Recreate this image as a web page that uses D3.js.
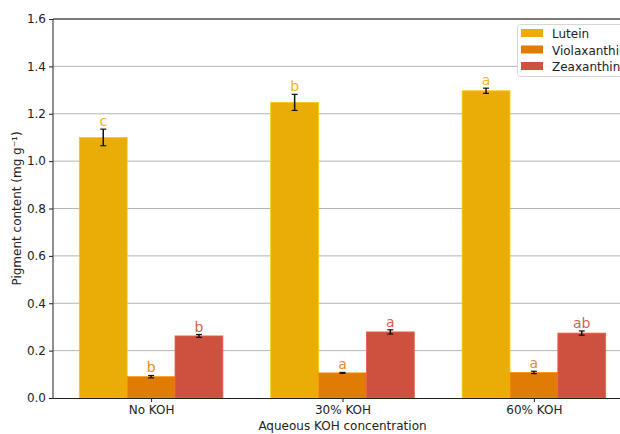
<!DOCTYPE html>
<html>
<head>
<meta charset="utf-8">
<script src="https://cdn.jsdelivr.net/npm/d3@7"></script>
<style>
  html, body { margin: 0; padding: 0; background: #fff; }
  svg { display: block; font-family: "DejaVu Sans", sans-serif; }
</style>
</head>
<body>
<svg id="chart" width="620" height="434"></svg>
<script>
// Treatments and pigments
const categories = ["No KOH", "30% KOH", "60% KOH"];
const seriesNames = ["Lutein", "Violaxanthin", "Zeaxanthin"];
const seriesColors = ["#EAAD08", "#E07C04", "#CE5140"];
const labelColors = ["#EFB525", "#E88A23", "#D6604F"];

// Mean pigment content (mg g-1) per treatment
const lutein = [1.100, 1.248, 1.297];
const violaxanthin = [0.090, 0.106, 0.108];
const zeaxanthin = [0.262, 0.279, 0.274];

// Standard errors
const luteinErr = [0.035, 0.034, 0.011];
const violaxanthinErr = [0.005, 0.002, 0.005];
const zeaxanthinErr = [0.006, 0.009, 0.009];

// Significance letters
const luteinLetters = ["c", "b", "a"];
const violaxanthinLetters = ["b", "a", "a"];
const zeaxanthinLetters = ["b", "a", "ab"];

const yTicks = [0, 0.2, 0.4, 0.6, 0.8, 1.0, 1.2, 1.4, 1.6];

const values = [lutein, violaxanthin, zeaxanthin];
const errors = [luteinErr, violaxanthinErr, zeaxanthinErr];
const letters = [luteinLetters, violaxanthinLetters, zeaxanthinLetters];

const svg = d3.select("#chart");
const m = { left: 53, top: 19, bottom: 398, right: 632 };

// Linear x scale over category index, with matplotlib-like padding
const barW = 0.25;
const x = d3.scaleLinear().domain([-0.5125, 2.5125]).range([m.left, m.right]);
const y = d3.scaleLinear().domain([0, 1.6]).range([m.bottom, m.top]);

// Horizontal grid
svg.append("g")
  .selectAll("line")
  .data(yTicks.slice(1, -1))
  .join("line")
  .attr("x1", m.left).attr("x2", m.right)
  .attr("y1", d => y(d)).attr("y2", d => y(d))
  .attr("stroke", "#b4b4b4").attr("stroke-width", 1);

// Bars
const offsets = [-barW, 0, barW];
seriesNames.forEach((name, s) => {
  const g = svg.append("g");
  g.selectAll("rect")
    .data(values[s])
    .join("rect")
    .attr("x", (d, i) => x(i + offsets[s] - barW / 2))
    .attr("width", (d, i) => x(i + offsets[s] + barW / 2) - x(i + offsets[s] - barW / 2))
    .attr("y", d => y(d))
    .attr("height", d => y(0) - y(d))
    .attr("fill", seriesColors[s])
    .attr("stroke", d3.color(seriesColors[s]).brighter(0.4))
    .attr("stroke-width", 0.8);

  // Error bars
  const eb = g.selectAll("g.err")
    .data(values[s])
    .join("g").attr("class", "err");
  eb.append("line")
    .attr("x1", (d, i) => x(i + offsets[s])).attr("x2", (d, i) => x(i + offsets[s]))
    .attr("y1", (d, i) => y(d - errors[s][i])).attr("y2", (d, i) => y(d + errors[s][i]))
    .attr("stroke", "#111").attr("stroke-width", 1.5);
  [-1, 1].forEach(sign => {
    eb.append("line")
      .attr("x1", (d, i) => x(i + offsets[s]) - 3).attr("x2", (d, i) => x(i + offsets[s]) + 3)
      .attr("y1", (d, i) => y(d + sign * errors[s][i]))
      .attr("y2", (d, i) => y(d + sign * errors[s][i]))
      .attr("stroke", "#111").attr("stroke-width", 1.2);
  });

  // Letters
  g.selectAll("text.letter")
    .data(values[s])
    .join("text").attr("class", "letter")
    .attr("x", (d, i) => x(i + offsets[s]))
    .attr("y", (d, i) => y(d + errors[s][i]) - 3)
    .attr("text-anchor", "middle")
    .attr("font-size", 14)
    .attr("fill", labelColors[s])
    .text((d, i) => letters[s][i]);
});

// Spines
svg.append("line").attr("x1", m.left).attr("x2", m.right).attr("y1", m.top).attr("y2", m.top)
  .attr("stroke", "#7a7a7a").attr("stroke-width", 2);
svg.append("line").attr("x1", m.left).attr("x2", m.left).attr("y1", m.top).attr("y2", m.bottom)
  .attr("stroke", "#222").attr("stroke-width", 1);

// Axes
const yAxis = d3.axisLeft(y).tickValues(yTicks).tickFormat(d3.format(".1f")).tickSize(4).tickPadding(3);
const yg = svg.append("g").attr("transform", `translate(${m.left},0)`).call(yAxis);
yg.select(".domain").remove();
yg.selectAll("text").attr("font-size", 12).attr("fill", "#222").attr("font-family", "DejaVu Sans");
yg.selectAll("line").attr("stroke", "#222");

const xAxis = d3.axisBottom(x).tickValues([0, 1, 2]).tickFormat(i => categories[i]).tickSize(4).tickPadding(3);
const xg = svg.append("g").attr("transform", `translate(0,${m.bottom})`).call(xAxis);
xg.select(".domain").attr("d", `M${m.left},0.5H${m.right}`).attr("stroke", "#222");
xg.selectAll("text").attr("font-size", 12).attr("fill", "#222").attr("font-family", "DejaVu Sans");
xg.selectAll("line").attr("stroke", "#222");

// Axis titles
svg.append("text")
  .attr("x", x(1)).attr("y", 430)
  .attr("text-anchor", "middle").attr("font-size", 12).attr("fill", "#222")
  .text("Aqueous KOH concentration");
svg.append("text")
  .attr("transform", `translate(21,${(m.top + m.bottom) / 2}) rotate(-90)`)
  .attr("text-anchor", "middle").attr("font-size", 12).attr("fill", "#222")
  .text("Pigment content (mg g⁻¹)");

// Legend
const lg = svg.append("g").attr("transform", "translate(517,24)");
lg.append("rect").attr("x", 0.5).attr("y", 0.5).attr("width", 120).attr("height", 52).attr("rx", 3)
  .attr("fill", "#fff").attr("fill-opacity", 0.85).attr("stroke", "#d6d6d6");
seriesNames.forEach((name, s) => {
  lg.append("rect").attr("x", 4).attr("y", 5 + s * 16.5).attr("width", 22).attr("height", 8)
    .attr("fill", seriesColors[s]);
  lg.append("text").attr("x", 35).attr("y", 14 + s * 16.5)
    .attr("font-size", 12).attr("fill", "#222").text(name);
});
</script>
</body>
</html>
